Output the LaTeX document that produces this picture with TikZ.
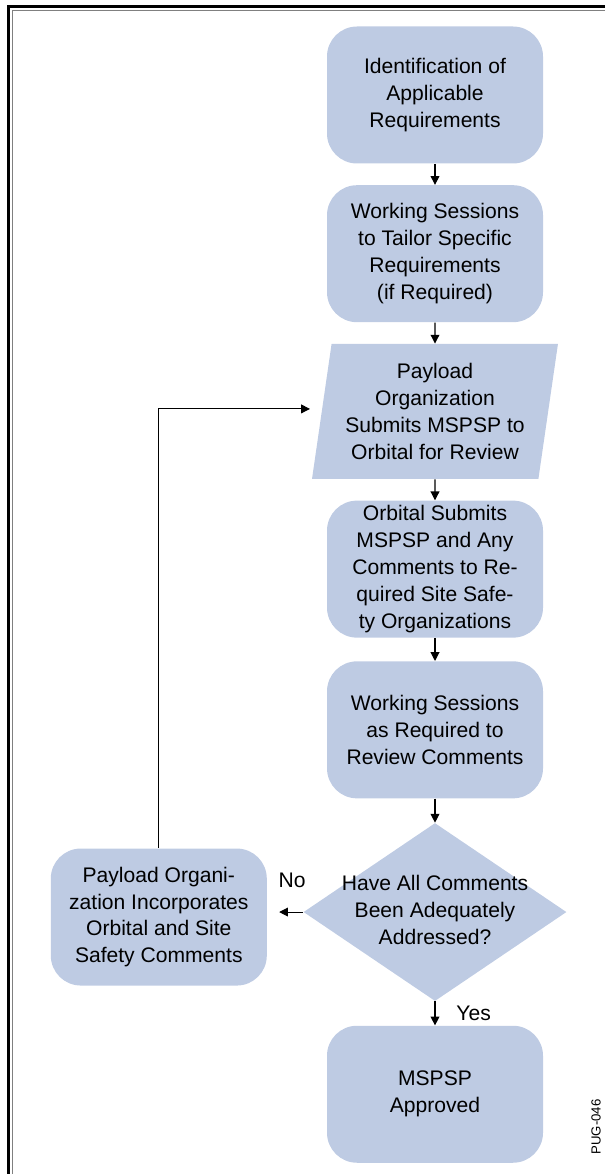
\documentclass[tikz,border=0pt]{standalone}
\usepackage{fontspec}
\setmainfont{Liberation Sans}
\usetikzlibrary{arrows.meta, positioning, shapes.geometric}
\definecolor{boxblue}{RGB}{190,203,227}

\begin{document}
\begin{tikzpicture}[font=\fontsize{12}{15.3}\selectfont, >={Triangle[length=5pt,width=5pt]},
    stepbox/.style={fill=boxblue, rounded corners=0.6cm, minimum width=4.32cm,
      minimum height=2.74cm, align=center, inner sep=1pt},
    iobox/.style={trapezium, trapezium left angle=80, trapezium right angle=100,
      trapezium stretches=true, fill=boxblue, minimum width=4.92cm,
      minimum height=2.7cm, align=center, inner sep=0pt},
    decision/.style={diamond, fill=boxblue, minimum width=5.26cm,
      minimum height=3.56cm, inner sep=0pt},
    flow/.style={->, line width=0.6pt},
    node distance=0.42cm]
  \useasboundingbox (0,0) rectangle (12.1,-23.48);
  % frame: only its top and left edges are in the picture
  \draw[line width=1.7pt] (12.1,-0.14) -- (0.17,-0.14) -- (0.17,-23.48);
  \draw[gray, line width=0.5pt] (12.1,-0.21) -- (0.24,-0.21) -- (0.24,-23.48);
  % main column
  \node[stepbox] (ident) at (8.7,-1.9) {Identification of\\Applicable\\Requirements};
  \node[stepbox, below=of ident] (tailor) {Working Sessions\\to Tailor Specific\\Requirements\\(if Required)};
  \node[iobox, below=of tailor] (submit) {Payload\\Organization\\Submits MSPSP to\\Orbital for Review};
  \node[stepbox, below=of submit] (forward) {Orbital Submits\\MSPSP and Any\\Comments to Re-\\quired Site Safe-\\ty Organizations};
  \node[stepbox, below=0.46cm of forward] (review) {Working Sessions\\as Required to\\Review Comments};
  \node[decision, below=0.48cm of review] (check) {\makebox[0pt]{\begin{tabular}{@{}c@{}}Have All Comments\\Been Adequately\\Addressed?\end{tabular}}};
  \node[stepbox, below=0.48cm of check] (approved) {MSPSP\\Approved};
  % rework loop
  \node[stepbox, left=0.72cm of check, yshift=-0.1cm] (rework) {Payload Organi-\\zation Incorporates\\Orbital and Site\\Safety Comments};
  % connectors
  \draw[flow] (ident) -- (tailor);
  \draw[flow] (tailor) -- (submit);
  \draw[flow] (submit) -- (forward);
  \draw[flow] (forward) -- (review);
  \draw[flow] (review) -- (check);
  \draw[flow] (check) -- (approved) node[midway, right=0.3cm] {Yes};
  \draw[flow, shorten >=0.24cm] (check.west) -- (check.west -| rework.east)
    node[midway, above=0.36cm, xshift=0.14cm] {No};
  \draw[flow, shorten >=0.23cm] (rework.north) |- ([yshift=0.05cm]submit.west);
  % figure tag
  \node[rotate=90, font=\fontsize{7.5}{9}\selectfont] (tag) at (11.92,-22.54) {PUG-046};
\end{tikzpicture}
\end{document}
